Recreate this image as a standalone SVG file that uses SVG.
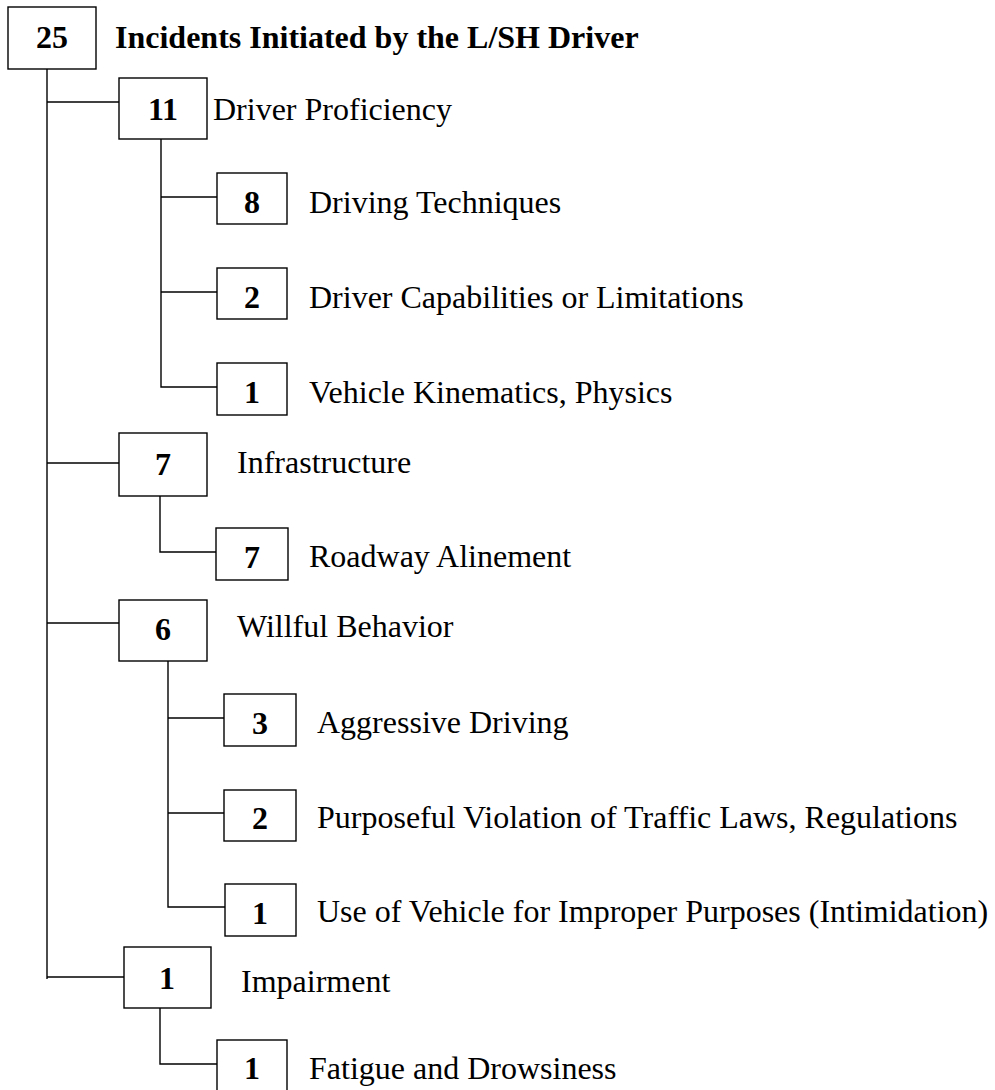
<svg xmlns="http://www.w3.org/2000/svg" width="995" height="1090" viewBox="0 0 995 1090">
  <style>
    .box { fill: #fff; stroke: #000; stroke-width: 1.4; }
    .num { font-family: "Liberation Serif", "Times New Roman", serif; font-weight: bold; font-size: 32px; text-anchor: middle; fill: #000; }
    .lbl { font-family: "Liberation Serif", "Times New Roman", serif; font-size: 32px; fill: #000; }
    .title { font-family: "Liberation Serif", "Times New Roman", serif; font-weight: bold; font-size: 32px; fill: #000; }
    .wire { fill: none; stroke: #000; stroke-width: 1.4; }
  </style>
  <rect width="995" height="1090" fill="#fff"/>

  <!-- connectors -->
  <g id="connectors" class="wire">
    <!-- main trunk -->
    <path d="M47 69 V979"/>
    <path d="M47 102 H119"/>
    <path d="M47 463 H119"/>
    <path d="M47 623 H119"/>
    <path d="M47 977 H124"/>
    <!-- Driver Proficiency branch -->
    <path d="M161 139 V387 H217"/>
    <path d="M161 197 H217"/>
    <path d="M161 292 H217"/>
    <!-- Infrastructure branch -->
    <path d="M160 496 V552 H216"/>
    <!-- Willful Behavior branch -->
    <path d="M168 661 V907 H225"/>
    <path d="M168 718 H224"/>
    <path d="M168 813 H224"/>
    <!-- Impairment branch -->
    <path d="M160 1008 V1064 H217"/>
  </g>

  <g id="n-root">
    <rect class="box" x="8" y="7" width="88" height="62"/>
    <text class="num" x="52" y="48">25</text>
    <text class="title" x="115" y="48">Incidents Initiated by the L/SH Driver</text>
  </g>

  <g id="n-proficiency">
    <rect class="box" x="119" y="78" width="88" height="61"/>
    <text class="num" x="163" y="120">11</text>
    <text class="lbl" x="213" y="120">Driver Proficiency</text>
  </g>
  <g id="n-techniques">
    <rect class="box" x="217" y="173" width="70" height="51"/>
    <text class="num" x="252" y="213">8</text>
    <text class="lbl" x="309" y="213">Driving Techniques</text>
  </g>
  <g id="n-capabilities">
    <rect class="box" x="217" y="268" width="70" height="51"/>
    <text class="num" x="252" y="308">2</text>
    <text class="lbl" x="309" y="308">Driver Capabilities or Limitations</text>
  </g>
  <g id="n-kinematics">
    <rect class="box" x="217" y="363" width="70" height="52"/>
    <text class="num" x="252" y="403">1</text>
    <text class="lbl" x="309" y="403">Vehicle Kinematics, Physics</text>
  </g>

  <g id="n-infrastructure">
    <rect class="box" x="119" y="433" width="88" height="63"/>
    <text class="num" x="163" y="475">7</text>
    <text class="lbl" x="237" y="473">Infrastructure</text>
  </g>
  <g id="n-alinement">
    <rect class="box" x="216" y="528" width="72" height="52"/>
    <text class="num" x="252" y="568">7</text>
    <text class="lbl" x="309" y="567">Roadway Alinement</text>
  </g>

  <g id="n-willful">
    <rect class="box" x="119" y="600" width="88" height="61"/>
    <text class="num" x="163" y="640">6</text>
    <text class="lbl" x="237" y="637">Willful Behavior</text>
  </g>
  <g id="n-aggressive">
    <rect class="box" x="224" y="694" width="72" height="52"/>
    <text class="num" x="260" y="734">3</text>
    <text class="lbl" x="317" y="733">Aggressive Driving</text>
  </g>
  <g id="n-violation">
    <rect class="box" x="224" y="790" width="72" height="51"/>
    <text class="num" x="260" y="829">2</text>
    <text class="lbl" x="317" y="828">Purposeful Violation of Traffic Laws, Regulations</text>
  </g>
  <g id="n-intimidation">
    <rect class="box" x="225" y="884" width="71" height="52"/>
    <text class="num" x="260" y="924">1</text>
    <text class="lbl" x="317" y="922">Use of Vehicle for Improper Purposes (Intimidation)</text>
  </g>

  <g id="n-impairment">
    <rect class="box" x="124" y="947" width="87" height="61"/>
    <text class="num" x="167" y="989">1</text>
    <text class="lbl" x="241" y="992">Impairment</text>
  </g>
  <g id="n-fatigue">
    <rect class="box" x="217" y="1040" width="70" height="60"/>
    <text class="num" x="252" y="1079">1</text>
    <text class="lbl" x="309" y="1079">Fatigue and Drowsiness</text>
  </g>
</svg>
